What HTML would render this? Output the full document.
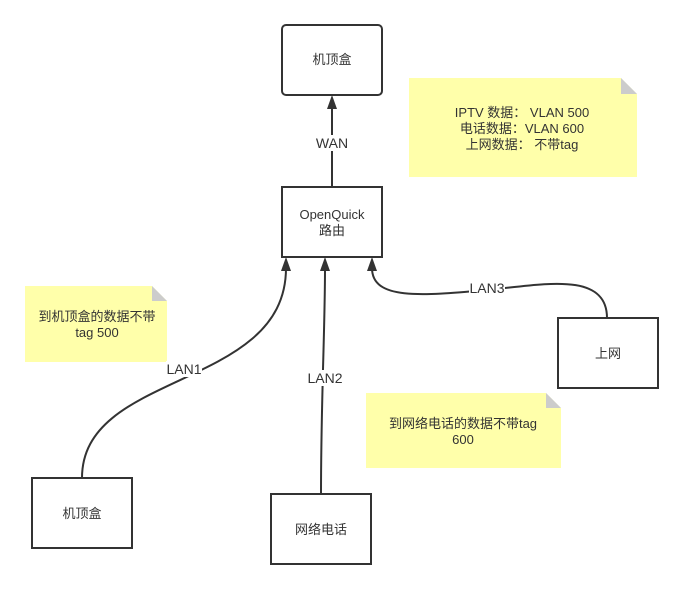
<!DOCTYPE html>
<html><head><meta charset="utf-8"><style>
html,body{margin:0;padding:0;background:#fff;}
svg{display:block;}
text{font-family:"Liberation Sans","Noto Sans CJK SC",sans-serif;font-size:13px;fill:#333;text-anchor:middle;}
.l{font-size:14px;}
</style></head><body>
<svg width="683" height="590" viewBox="0 0 683 590" xmlns="http://www.w3.org/2000/svg">
<path d="M409,78 H621 L637,94 V177 H409 Z" fill="#ffffaa"/><path d="M621,78 L637,94 H621 Z" fill="#ccc"/>
<text x="522" y="117">IPTV 数据：  VLAN 500</text>
<text x="522" y="133">电话数据：VLAN 600</text>
<text x="522" y="149">上网数据：  不带tag</text>
<path d="M25,286 H152 L167,301 V362 H25 Z" fill="#ffffaa"/><path d="M152,286 L167,301 H152 Z" fill="#ccc"/>
<text x="97" y="321">到机顶盒的数据不带</text>
<text x="97" y="337">tag 500</text>
<path d="M366,393 H546 L561,408 V468 H366 Z" fill="#ffffaa"/><path d="M546,393 L561,408 H546 Z" fill="#ccc"/>
<text x="463" y="428">到网络电话的数据不带tag</text>
<text x="463" y="444">600</text>
<rect x="282" y="25" width="100" height="70" rx="4" fill="#fff" stroke="#333" stroke-width="2"/>
<text x="332" y="64">机顶盒</text>
<rect x="282" y="187" width="100" height="70" fill="#fff" stroke="#333" stroke-width="2"/>
<text x="332" y="219">OpenQuick</text><text x="332" y="235">路由</text>
<rect x="32" y="478" width="100" height="70" fill="#fff" stroke="#333" stroke-width="2"/>
<text x="82" y="518">机顶盒</text>
<rect x="271" y="494" width="100" height="70" fill="#fff" stroke="#333" stroke-width="2"/>
<text x="321" y="534">网络电话</text>
<rect x="558" y="318" width="100" height="70" fill="#fff" stroke="#333" stroke-width="2"/>
<text x="608" y="358">上网</text>
<g fill="none" stroke="#333" stroke-width="2">
<path d="M332,187 V106"/>
<path d="M82,478 C82,370 286,390 286,268"/>
<path d="M321,494 C321,400 325,330 325,268"/>
<path d="M607,318 C607,270 540,285 487,290 C420,296 372,300 372,268"/>
</g>
<g fill="#333">
<path d="M332,95 L337,109 L327,109 Z"/>
<path d="M286,257 L291,271 L281,271 Z"/>
<path d="M325,257 L330,271 L320,271 Z"/>
<path d="M372,257 L377,271 L367,271 Z"/>
</g>
<rect x="314" y="135" width="36" height="16" fill="#fff"/><text class="l" x="332" y="148">WAN</text>
<rect x="166" y="361" width="36" height="16" fill="#fff"/><text class="l" x="184" y="374">LAN1</text>
<rect x="306" y="370" width="38" height="16" fill="#fff"/><text class="l" x="325" y="383">LAN2</text>
<rect x="469" y="281" width="36" height="15" fill="#fff"/><text class="l" x="487" y="293">LAN3</text>
</svg>
</body></html>
